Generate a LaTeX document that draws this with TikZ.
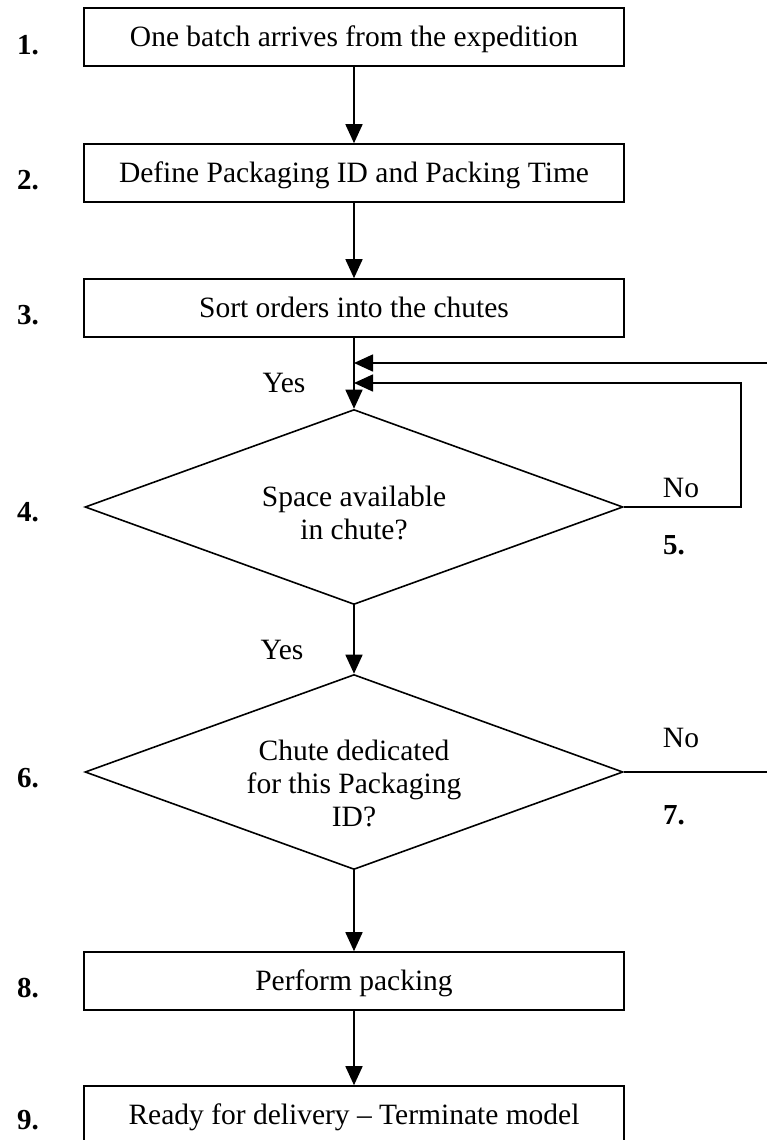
\documentclass[tikz,border=0pt]{standalone}
\usepackage{fontspec}
\setmainfont{Liberation Serif}
\usetikzlibrary{shapes.geometric,arrows.meta}

\tikzset{
  stepbox/.style={draw, line width=1.6pt, rectangle, minimum width=540pt,
    minimum height=58pt, inner sep=0pt, text depth=2pt,
    font=\fontsize{29.5}{33}\selectfont},
  decision/.style={draw, line width=1.6pt, diamond, minimum width=538pt,
    minimum height=195pt, inner sep=0pt},
  dtext/.style={align=center, inner sep=0pt, font=\fontsize{29.5}{33}\selectfont},
  numlabel/.style={font=\fontsize{29}{32}\selectfont\bfseries, inner sep=0pt},
  answer/.style={font=\fontsize{29.5}{33}\selectfont, inner sep=0pt},
  flow/.style={line width=1.6pt, -{Triangle[length=19pt,width=17pt]}},
  plain/.style={line width=1.6pt}
}

\begin{document}
\begin{tikzpicture}[x=1pt,y=-1pt]
\useasboundingbox (0,0) rectangle (766,1140);

% process steps
\node[stepbox] (s1) at (354,37) {One batch arrives from the expedition};
\node[stepbox] (s2) at (354,173) {Define Packaging ID and Packing Time};
\node[stepbox] (s3) at (354,308) {Sort orders into the chutes};
\node[decision] (d4) at (354,507) {};
\node[dtext] (t4) at (354,513) {Space available\\in chute?};
\node[decision] (d6) at (354,772) {};
\node[dtext] (t6) at (354,783) {Chute dedicated\\for this Packaging\\ID?};
\node[stepbox] (s8) at (354,981) {Perform packing};
\node[stepbox] (s9) at (354,1115) {Ready for delivery -- Terminate model};

% step numbers
\node[numlabel] (n1) at (28,45) {1.};
\node[numlabel] (n2) at (28,180) {2.};
\node[numlabel] (n3) at (28,315) {3.};
\node[numlabel] (n4) at (28,512) {4.};
\node[numlabel] (n5) at (674,545) {5.};
\node[numlabel] (n6) at (28,778) {6.};
\node[numlabel] (n7) at (674,815) {7.};
\node[numlabel] (n8) at (28,988) {8.};
\node[numlabel] (n9) at (28,1120) {9.};

% answers
\node[answer] (y1) at (284,383) {Yes};
\node[answer] (y2) at (282,650) {Yes};
\node[answer] (no1) at (681,488) {No};
\node[answer] (no2) at (681,738) {No};

% junctions on the main line
\coordinate (j1) at (354,363);
\coordinate (j2) at (354,383);

% main flow
\draw[flow] (s1) -- (s2);
\draw[flow] (s2) -- (s3);
\draw[flow] (s3) -- (d4);
\draw[flow] (d4) -- (d6);
\draw[flow] (d6) -- (s8);
\draw[flow] (s8) -- (s9);

% loops back to the chute check
\draw[flow] (d4.east) -- (741,507) -- (741,383) -- (j2);
\draw[flow] (d6.east) -- (800,772) -- (800,363) -- (j1);
\end{tikzpicture}
\end{document}
